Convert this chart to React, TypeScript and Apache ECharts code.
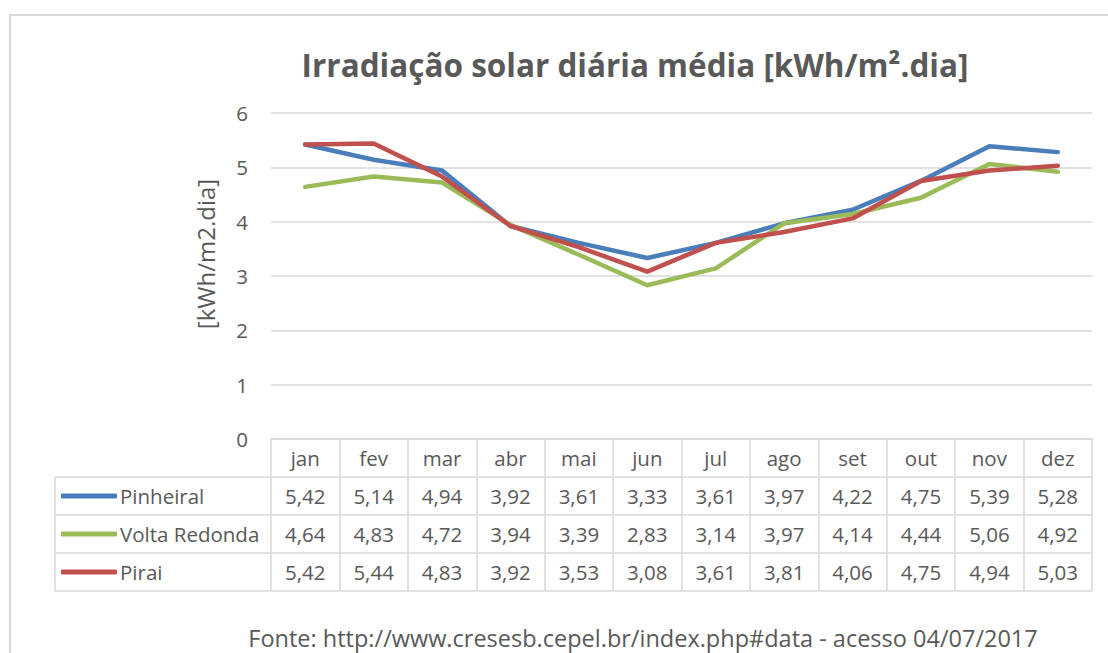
import React, { useEffect, useRef } from "react";
import * as echarts from "echarts";

const months = ["jan", "fev", "mar", "abr", "mai", "jun", "jul", "ago", "set", "out", "nov", "dez"];
const seriesNames = ["Pinheiral", "Volta Redonda", "Pirai"];
const pinheiral = [5.42, 5.14, 4.94, 3.92, 3.61, 3.33, 3.61, 3.97, 4.22, 4.75, 5.39, 5.28];
const voltaRedonda = [4.64, 4.83, 4.72, 3.94, 3.39, 2.83, 3.14, 3.97, 4.14, 4.44, 5.06, 4.92];
const pirai = [5.42, 5.44, 4.83, 3.92, 3.53, 3.08, 3.61, 3.81, 4.06, 4.75, 4.94, 5.03];
const yTicks = [0, 1, 2, 3, 4, 5, 6];
const colors = ["#4a7ebb", "#9bbb59", "#c0504d"];
const titleText = "Irradiação solar diária média [kWh/m².dia]";
const yAxisTitle = "[kWh/m2.dia]";
const sourceText = "Fonte: http://www.cresesb.cepel.br/index.php#data - acesso 04/07/2017";

const FONT = "'Open Sans', sans-serif";
const TXT = "#595959";
const GRID = "#d9d9d9";

const W = 1108;
const H = 653;
const PLOT_L = 271;
const PLOT_R = 1092;
const PLOT_T = 113;
const PLOT_B = 439;
const ROW_H = 38;
const LEG_L = 55;
const FS = 20.5;

const fmt = (v: number) => v.toFixed(2).replace(".", ",");

export default function App() {
  const ref = useRef<HTMLDivElement>(null);
  useEffect(() => {
    if (!ref.current) return;
    const chart = echarts.init(ref.current, undefined, { renderer: "svg" });
    const allData = [pinheiral, voltaRedonda, pirai];

    const baseX = {
      type: "category" as const,
      data: months,
      boundaryGap: true,
      position: "bottom" as const,
      axisLine: { show: true, lineStyle: { color: GRID, width: 1.5 } },
      axisTick: { show: true, length: ROW_H * 4, lineStyle: { color: GRID, width: 1.5 }, interval: 0 },
      axisLabel: {
        show: true,
        interval: 0,
        margin: ROW_H / 2,
        verticalAlign: "middle" as const,
        color: TXT,
        fontFamily: FONT,
        fontSize: FS,
      },
    };

    const valueAxes = allData.map((d, i) => ({
      type: "category" as const,
      data: d.map(fmt),
      boundaryGap: true,
      position: "bottom" as const,
      offset: ROW_H * (i + 1),
      axisLine: { show: true, lineStyle: { color: GRID, width: 1.5 } },
      axisTick: { show: false },
      axisLabel: {
        show: true,
        interval: 0,
        margin: ROW_H / 2,
        verticalAlign: "middle" as const,
        color: TXT,
        fontFamily: FONT,
        fontSize: FS,
      },
    }));

    const bottomAxis = {
      type: "category" as const,
      data: months,
      boundaryGap: true,
      position: "bottom" as const,
      offset: ROW_H * 4,
      axisLine: { show: true, lineStyle: { color: GRID, width: 1.5 } },
      axisTick: { show: false },
      axisLabel: { show: false },
    };

    const graphicLines: any[] = [];
    for (let i = 1; i <= 4; i++) {
      graphicLines.push({
        type: "line",
        shape: { x1: LEG_L, y1: PLOT_B + ROW_H * i, x2: PLOT_L, y2: PLOT_B + ROW_H * i },
        style: { stroke: GRID, lineWidth: 1.5 },
        silent: true,
      });
    }
    graphicLines.push({
      type: "line",
      shape: { x1: LEG_L, y1: PLOT_B + ROW_H, x2: LEG_L, y2: PLOT_B + ROW_H * 4 },
      style: { stroke: GRID, lineWidth: 1.5 },
      silent: true,
    });

    chart.setOption({
      animation: false,
      backgroundColor: "#ffffff",
      color: colors,
      grid: {
        left: PLOT_L,
        right: W - PLOT_R,
        top: PLOT_T,
        bottom: H - PLOT_B,
        containLabel: false,
      },
      legend: seriesNames.map((n, i) => ({
        data: [n],
        left: 61,
        top: PLOT_B + ROW_H * (i + 1) + ROW_H / 2 - 12,
        itemWidth: 56,
        itemHeight: 5,
        icon: "roundRect",
        itemGap: 0,
        padding: 0,
        textStyle: { color: TXT, fontFamily: FONT, fontSize: FS, lineHeight: 24, padding: [0, 0, 0, -2] },
        selectedMode: false,
      })),
      xAxis: [baseX, ...valueAxes, bottomAxis],
      yAxis: {
        type: "value",
        min: 0,
        max: 6,
        interval: 1,
        axisLine: { show: false },
        axisTick: { show: false },
        splitLine: { lineStyle: { color: GRID, width: 1.5 } },
        axisLabel: {
          color: TXT,
          fontFamily: FONT,
          fontSize: FS,
          margin: 23,
          formatter: (v: number) => (yTicks.includes(v) ? String(v) : ""),
        },
      },
      series: allData.map((d, i) => ({
        name: seriesNames[i],
        type: "line",
        data: d,
        xAxisIndex: 0,
        showSymbol: false,
        symbol: "none",
        lineStyle: { width: 4.5, color: colors[i], cap: "round", join: "round" },
        itemStyle: { color: colors[i] },
        z: 2 + i,
      })),
      graphic: [
        {
          type: "rect",
          shape: { x: 10, y: 15, width: W + 20, height: H + 20 },
          style: { fill: "none", stroke: GRID, lineWidth: 2 },
          silent: true,
          z: -1,
        },
        {
          type: "text",
          x: 635,
          y: 64,
          style: {
            text: titleText,
            fontFamily: FONT,
            fontWeight: "bold",
            fontSize: 31.5,
            fill: TXT,
            textAlign: "center",
            textVerticalAlign: "middle",
          },
        },
        {
          type: "text",
          x: 205,
          y: 254,
          rotation: Math.PI / 2,
          style: {
            text: yAxisTitle,
            fontFamily: FONT,
            fontSize: 24,
            fill: TXT,
            textAlign: "center",
            textVerticalAlign: "middle",
          },
        },
        {
          type: "text",
          x: 643,
          y: 638,
          style: {
            text: sourceText,
            fontFamily: FONT,
            fontSize: 23.5,
            fill: TXT,
            textAlign: "center",
            textVerticalAlign: "middle",
          },
        },
        ...graphicLines,
      ],
    });
    return () => chart.dispose();
  }, []);

  return (
    <div style={{ position: "absolute", left: 0, top: 0, width: W, height: H, overflow: "hidden" }}>
      <div ref={ref} style={{ width: W, height: H }} />
    </div>
  );
}
